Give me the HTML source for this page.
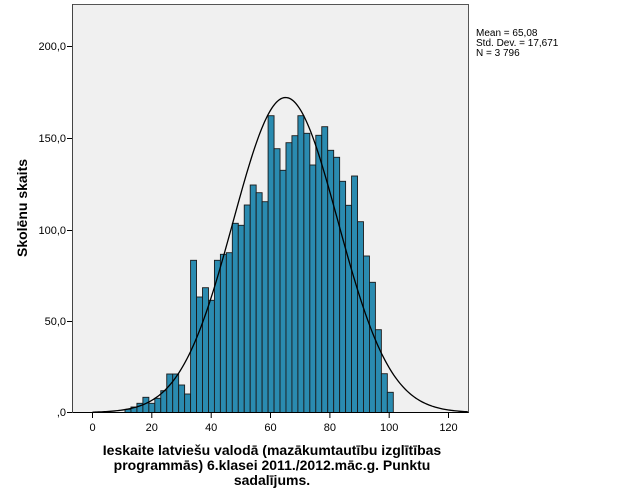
<!DOCTYPE html>
<html><head><meta charset="utf-8"><style>
body{margin:0;background:#fff;}
svg{display:block;font-family:"Liberation Sans",Arial,sans-serif;}
</style></head><body>
<svg id="s" width="625" height="500" viewBox="0 0 625 500">
<rect x="72.5" y="4.5" width="396" height="408" fill="#f0f0f0" stroke="#555" stroke-width="1"/>
<g id="bars"></g>
<path id="curve" fill="none" stroke="#000" stroke-width="1.3"/>
<line x1="72.5" y1="412.5" x2="468.5" y2="412.5" stroke="#000"/>
<line x1="72.5" y1="4" x2="72.5" y2="413" stroke="#444"/>
<g stroke="#000">
<line x1="67" y1="46.5" x2="72" y2="46.5"/><line x1="67" y1="138.5" x2="72" y2="138.5"/>
<line x1="67" y1="230.5" x2="72" y2="230.5"/><line x1="67" y1="321.5" x2="72" y2="321.5"/>
<line x1="67" y1="412.5" x2="72" y2="412.5"/>
<line x1="92.5" y1="413" x2="92.5" y2="418"/><line x1="151.8" y1="413" x2="151.8" y2="418"/>
<line x1="211.2" y1="413" x2="211.2" y2="418"/><line x1="270.5" y1="413" x2="270.5" y2="418"/>
<line x1="329.9" y1="413" x2="329.9" y2="418"/><line x1="389.2" y1="413" x2="389.2" y2="418"/>
<line x1="448.5" y1="413" x2="448.5" y2="418"/>
</g>
<g font-size="11" fill="#000" text-anchor="end">
<text x="66" y="50">200,0</text><text x="66" y="142">150,0</text>
<text x="66" y="234">100,0</text><text x="66" y="325">50,0</text><text x="66" y="416">,0</text>
</g>
<g font-size="11" fill="#000" text-anchor="middle">
<text x="92.5" y="431">0</text><text x="151.8" y="431">20</text><text x="211.2" y="431">40</text>
<text x="270.5" y="431">60</text><text x="329.9" y="431">80</text><text x="389.2" y="431">100</text><text x="448.5" y="431">120</text>
</g>
<g font-size="10" fill="#000">
<text x="476" y="36">Mean = 65,08</text><text x="476" y="46">Std. Dev. = 17,671</text><text x="476" y="56">N = 3 796</text>
</g>
<text transform="translate(27,208) rotate(-90)" font-size="14" font-weight="bold" text-anchor="middle">Skolēnu skaits</text>
<g font-size="14" font-weight="bold" text-anchor="middle">
<text x="272" y="455">Ieskaite latviešu valodā (mazākumtautību izglītības</text>
<text x="272" y="470">programmās) 6.klasei 2011./2012.māc.g. Punktu</text>
<text x="272" y="485">sadalījums.</text>
</g>
</svg>
<script>
var tops=[409.3,407,403.3,397.3,403.3,398.3,390.7,374,374,385,394,260.3,297,287.7,300.3,260.3,254.3,252.7,223.3,225.3,205,185,192.7,201.7,115.7,148.7,170.3,142.7,135.7,115.7,133.3,165,135.3,126.7,150.3,157.3,181.3,205.3,176,221.7,256,282.3,329.7,373.7,392.3];
var x0=125,w=(393.3-125)/tops.length,g=document.getElementById('bars'),h='';
for(var i=0;i<tops.length;i++){var x=x0+i*w;h+='<rect x="'+x.toFixed(2)+'" y="'+tops[i]+'" width="'+w.toFixed(2)+'" height="'+(412.5-tops[i]).toFixed(2)+'" fill="#2a8bb0" stroke="#1a1a1a" stroke-width="0.9"/>';}
g.innerHTML=h;
var d='';for(var v=0;v<=127;v+=0.5){var px=92.5+v*2.967;var py=412.5-315*Math.exp(-Math.pow(v-65.08,2)/(2*17.671*17.671));if(px>468)break;d+=(d?'L':'M')+px.toFixed(2)+' '+py.toFixed(2);}
document.getElementById('curve').setAttribute('d',d);
</script>
</body></html>
